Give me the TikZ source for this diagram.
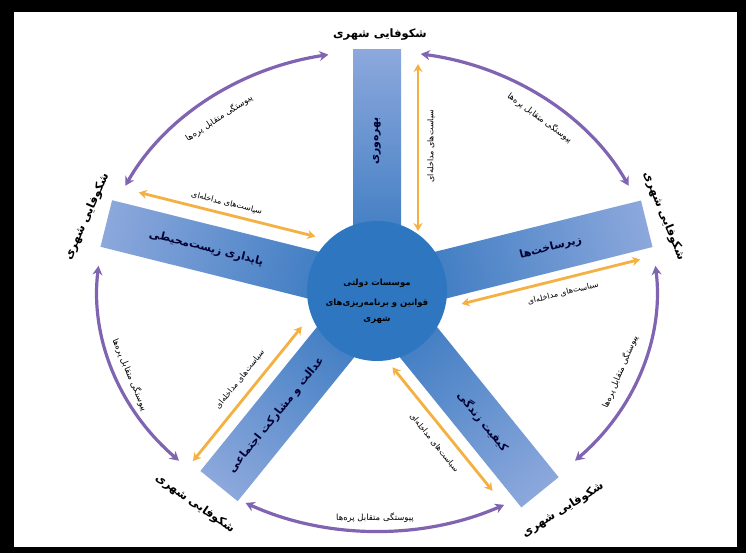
\documentclass[tikz,border=0pt]{standalone}
\usepackage{fontspec}
\usetikzlibrary{arrows.meta,calc}
\TeXXeTstate=1
\newfontfamily\arabicfont[Script=Arabic]{DejaVu Sans}
\newcommand{\myrtl}[1]{\beginR #1\endR}
\definecolor{armdark}{RGB}{44,114,188}
\definecolor{armlight}{RGB}{140,168,220}
\definecolor{hubblue}{RGB}{46,118,192}
\definecolor{orng}{RGB}{245,176,66}
\definecolor{purp}{RGB}{128,100,178}
\begin{document}
\begin{tikzpicture}[x=1pt,y=1pt,
  outerlbl/.style={font=\arabicfont\bfseries\fontsize{11.5}{13}\selectfont, inner sep=1pt},
  armtxt/.style={font=\arabicfont\bfseries\fontsize{11}{12}\selectfont, text=black!80!blue, inner sep=1pt},
  smalllbl/.style={font=\arabicfont\fontsize{8}{9}\selectfont, inner sep=1pt},
  arclbl/.style={font=\arabicfont\fontsize{8.5}{9}\selectfont, inner sep=1pt},
  hubtxt/.style={font=\arabicfont\bfseries\fontsize{8.5}{20}\selectfont, align=center, inner sep=1pt},
  orarrow/.style={draw=orng, line width=2.8pt, {Stealth[length=8pt,width=9pt]}-{Stealth[length=8pt,width=9pt]}},
  parrow/.style={draw=purp, line width=3.2pt, {Stealth[length=9pt,width=10pt]}-{Stealth[length=9pt,width=10pt]}},
]
\fill[black] (0,0) rectangle (746,-553);
\fill[white] (14,-12) rectangle (737,-547);
\useasboundingbox (0,0) rectangle (746,-553);
\coordinate (C) at (377,-291);
% arms
\foreach \a/\L in {90/241,14/278,-51/259,231/251,166/279}{
  \shade[transform canvas={shift={(377,-291)},rotate=\a}, left color=armdark, right color=armlight] (0,-24) rectangle (\L,24);
}
% hub
\node[circle, fill=hubblue, minimum size=140pt, inner sep=0pt] (hub) at (C) {};
\node[hubtxt] (hubtext) at ($(C)+(0,-10)$) {\myrtl{موسسات دولتی}\\ \myrtl{قوانین و برنامه‌ریزی‌های}\\[-4pt] \myrtl{شهری}};
% arm labels
\node[armtxt, rotate=90] (a1) at ($(C)+(90:150)$) {\myrtl{بهره‌وری}};
\node[armtxt, rotate=14] (a2) at ($(C)+(14:179)$) {\myrtl{زیرساخت‌ها}};
\node[armtxt, rotate=-51] (a3) at ($(C)+(-51:168)$) {\myrtl{کیفیت زندگی}};
\node[armtxt, rotate=51] (a4) at ($(C)+(231:160)$) {\myrtl{عدالت و مشارکت اجتماعی}};
\node[armtxt, rotate=-14] (a5) at ($(C)+(166:176)$) {\myrtl{پایداری زیست‌محیطی}};
% outer labels
\node[outerlbl] (s1) at (380,-35) {\myrtl{شکوفایی شهری}};
\node[outerlbl, rotate=-68] (s2) at (664,-216) {\myrtl{شکوفایی شهری}};
\node[outerlbl, rotate=32] (s3) at (563,-510) {\myrtl{شکوفایی شهری}};
\node[outerlbl, rotate=-35] (s4) at (195,-504) {\myrtl{شکوفایی شهری}};
\node[outerlbl, rotate=66] (s5) at (87,-217) {\myrtl{شکوفایی شهری}};
% orange arrows
\foreach \n/\a/\d/\ra/\rb in {t/90/41/60/227, r/14/33/79/263, br/-51/36/69/228, bl/231/36/75/248, l/166/38/73/255}{
  \coordinate (o\n a) at ($(C)+(\a:\ra)+(\a-90:\d)$);
  \coordinate (o\n b) at ($(C)+(\a:\rb)+(\a-90:\d)$);
  \draw[orarrow] (o\n a) -- (o\n b);
}
\node[smalllbl, rotate=90] (m1) at ($(C)+(90:145)+(0:54)$) {\myrtl{سیاست‌های مداخله‌ای}};
\node[smalllbl, rotate=14] (m2) at ($(C)+(14:180)+(-76:47)$) {\myrtl{سیاست‌های مداخله‌ای}};
\node[smalllbl, rotate=-51] (m3) at ($(C)+(-51:154)+(-141:51)$) {\myrtl{سیاست‌های مداخله‌ای}};
\node[smalllbl, rotate=51] (m4) at ($(C)+(231:155)+(141:51)$) {\myrtl{سیاست‌های مداخله‌ای}};
\node[smalllbl, rotate=-14] (m5) at ($(C)+(166:167)+(76:49)$) {\myrtl{سیاست‌های مداخله‌ای}};
% purple arcs
\foreach \n/\s/\e in {1/26/81, 2/-45/6, 3/-118/-63, 4/174/225, 5/100/154}{
  \coordinate (p\n s) at ($(C)+(\s:280 and 240)$);
  \draw[parrow] (p\n s) arc[start angle=\s, end angle=\e, x radius=280, y radius=240];
}
\node[arclbl, rotate=-36] (q1) at (540,-118) {\myrtl{پیوستگی متقابل پره‌ها}};
\node[arclbl, rotate=67] (q2) at (620,-372) {\myrtl{پیوستگی متقابل پره‌ها}};
\node[arclbl] (q3) at (375,-518) {\myrtl{پیوستگی متقابل پره‌ها}};
\node[arclbl, rotate=-67] (q4) at (130,-375) {\myrtl{پیوستگی متقابل پره‌ها}};
\node[arclbl, rotate=33] (q5) at (219,-118) {\myrtl{پیوستگی متقابل پره‌ها}};
\end{tikzpicture}
\end{document}
